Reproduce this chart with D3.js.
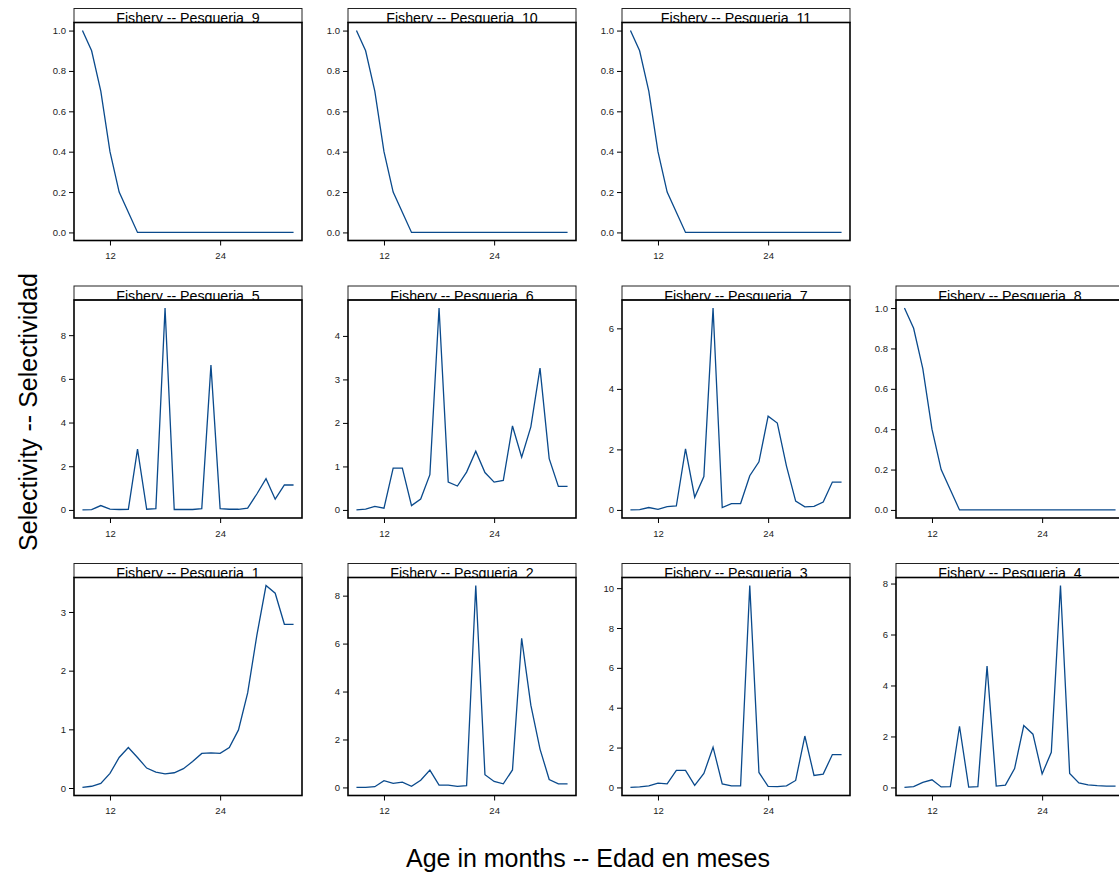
<!DOCTYPE html>
<html>
<head>
<meta charset="utf-8">
<script src="https://cdn.jsdelivr.net/npm/d3@7"></script>
<style>
  body { margin: 0; background: #fff; }
  svg { display: block; font-family: "Liberation Sans", Arial, sans-serif; }
</style>
</head>
<body>
<svg id="chart" width="1119" height="874"></svg>
<script>
// age in months, same for every fishery
var ages = [9, 10, 11, 12, 13, 14, 15, 16, 17, 18, 19, 20, 21, 22, 23, 24, 25, 26, 27, 28, 29, 30, 31, 32];
var xTicks = [12, 24];

var sel1 = [0.01, 0.03, 0.08, 0.25, 0.52, 0.69, 0.52, 0.34, 0.27, 0.24, 0.26, 0.33, 0.45, 0.59, 0.60, 0.59, 0.69, 0.99, 1.62, 2.60, 3.45, 3.32, 2.79, 2.79];
var sel2 = [0.0, 0.0, 0.03, 0.28, 0.17, 0.22, 0.05, 0.30, 0.72, 0.10, 0.10, 0.04, 0.07, 8.42, 0.53, 0.25, 0.15, 0.73, 6.22, 3.43, 1.60, 0.33, 0.15, 0.15];
var sel3 = [0.0, 0.03, 0.08, 0.22, 0.18, 0.86, 0.86, 0.10, 0.70, 2.02, 0.18, 0.08, 0.08, 10.13, 0.75, 0.05, 0.04, 0.08, 0.35, 2.58, 0.60, 0.67, 1.65, 1.65];
var sel4 = [0.0, 0.03, 0.20, 0.30, 0.02, 0.03, 2.40, 0.01, 0.03, 4.76, 0.05, 0.09, 0.74, 2.43, 2.09, 0.53, 1.38, 7.92, 0.55, 0.18, 0.10, 0.07, 0.05, 0.05];
var sel5 = [0.0, 0.01, 0.20, 0.04, 0.02, 0.03, 2.78, 0.03, 0.06, 9.24, 0.02, 0.02, 0.02, 0.06, 6.63, 0.06, 0.03, 0.03, 0.08, 0.73, 1.43, 0.49, 1.14, 1.14];
var sel6 = [0.0, 0.02, 0.08, 0.04, 0.96, 0.96, 0.10, 0.25, 0.81, 4.64, 0.64, 0.55, 0.87, 1.35, 0.86, 0.64, 0.68, 1.93, 1.21, 1.91, 3.26, 1.18, 0.54, 0.54];
var sel7 = [0.0, 0.01, 0.08, 0.02, 0.11, 0.13, 2.02, 0.42, 1.10, 6.67, 0.08, 0.21, 0.21, 1.13, 1.59, 3.10, 2.87, 1.45, 0.29, 0.10, 0.12, 0.26, 0.92, 0.92];
var sel8 = [1.0, 0.9, 0.7, 0.4, 0.2, 0.1, 0, 0, 0, 0, 0, 0, 0, 0, 0, 0, 0, 0, 0, 0, 0, 0, 0, 0];
var sel9 = [1.0, 0.9, 0.7, 0.4, 0.2, 0.1, 0, 0, 0, 0, 0, 0, 0, 0, 0, 0, 0, 0, 0, 0, 0, 0, 0, 0];
var sel10 = [1.0, 0.9, 0.7, 0.4, 0.2, 0.1, 0, 0, 0, 0, 0, 0, 0, 0, 0, 0, 0, 0, 0, 0, 0, 0, 0, 0];
var sel11 = [1.0, 0.9, 0.7, 0.4, 0.2, 0.1, 0, 0, 0, 0, 0, 0, 0, 0, 0, 0, 0, 0, 0, 0, 0, 0, 0, 0];

var fisheries = [1, 2, 3, 4, 5, 6, 7, 8, 9, 10, 11];
var series = [sel1, sel2, sel3, sel4, sel5, sel6, sel7, sel8, sel9, sel10, sel11];

var svg = d3.select("#chart");
var lineColor = "#0a4a8c";

// panel layout (lattice style, 4 columns x 3 rows, fishery 1 bottom-left)
var colLeft = 74, colStep = 274, panelW = 228;
var rowTop = 8.5, rowStep = 277.5, stripH = 14, panelH = 218;

// lattice pads the data range by 4% on each side
function padded(ext) {
    var d = (ext[1] - ext[0]) * 0.04;
    return [ext[0] - d, ext[1] + d];
}

var x = d3.scaleLinear().domain(padded(d3.extent(ages))).range([0, panelW]);

fisheries.forEach(function(f, i) {
    var col = i % 4;
    var row = 2 - Math.floor(i / 4);
    var vals = series[i];
    var px = colLeft + col * colStep;
    var py = rowTop + row * rowStep + stripH;

    var y = d3.scaleLinear().domain(padded(d3.extent(vals))).range([panelH, 0]);

    var g = svg.append("g").attr("transform", `translate(${px},${py})`);

    // strip
    g.append("clipPath").attr("id", "clip" + f)
        .append("rect").attr("x", 0).attr("y", -stripH).attr("width", panelW).attr("height", stripH);
    g.append("rect")
        .attr("x", 0).attr("y", -stripH).attr("width", panelW).attr("height", stripH)
        .attr("fill", "#fff").attr("stroke", "#222").attr("stroke-width", 1);
    g.append("text")
        .attr("clip-path", `url(#clip${f})`)
        .attr("x", panelW / 2).attr("y", 0.5)
        .attr("text-anchor", "middle")
        .attr("font-size", 14.2)
        .attr("xml:space", "preserve")
        .style("white-space", "pre")
        .text("Fishery -- Pesqueria  " + f);

    // line
    var line = d3.line()
        .x(function(d, j) { return x(ages[j]); })
        .y(function(d) { return y(d); });
    g.append("path")
        .datum(vals)
        .attr("d", line)
        .attr("fill", "none")
        .attr("stroke", lineColor)
        .attr("stroke-width", 1.3);

    // frame
    g.append("rect")
        .attr("x", 0).attr("y", 0).attr("width", panelW).attr("height", panelH)
        .attr("fill", "none").attr("stroke", "#000").attr("stroke-width", 1.6);

    // axes
    var yAxis = d3.axisLeft(y).ticks(5).tickSize(5).tickPadding(3).tickFormat(y.tickFormat(5));
    var ya = g.append("g").call(yAxis);
    var xAxis = d3.axisBottom(x).tickValues(xTicks).tickSize(5).tickPadding(7).tickFormat(d3.format("d"));
    var xa = g.append("g").attr("transform", `translate(0,${panelH})`).call(xAxis);
    [ya, xa].forEach(function(a) {
        a.select(".domain").remove();
        a.selectAll("line").attr("stroke", "#000");
        a.selectAll("text").attr("font-size", 9.5).attr("fill", "#222")
            .attr("font-family", "'Liberation Sans', Arial, sans-serif");
    });
});

svg.append("text")
    .attr("x", 588).attr("y", 867)
    .attr("text-anchor", "middle")
    .attr("font-size", 25)
    .text("Age in months -- Edad en meses");

svg.append("text")
    .attr("transform", "translate(37,412) rotate(-90)")
    .attr("text-anchor", "middle")
    .attr("font-size", 25)
    .text("Selectivity -- Selectividad");
</script>
</body>
</html>
